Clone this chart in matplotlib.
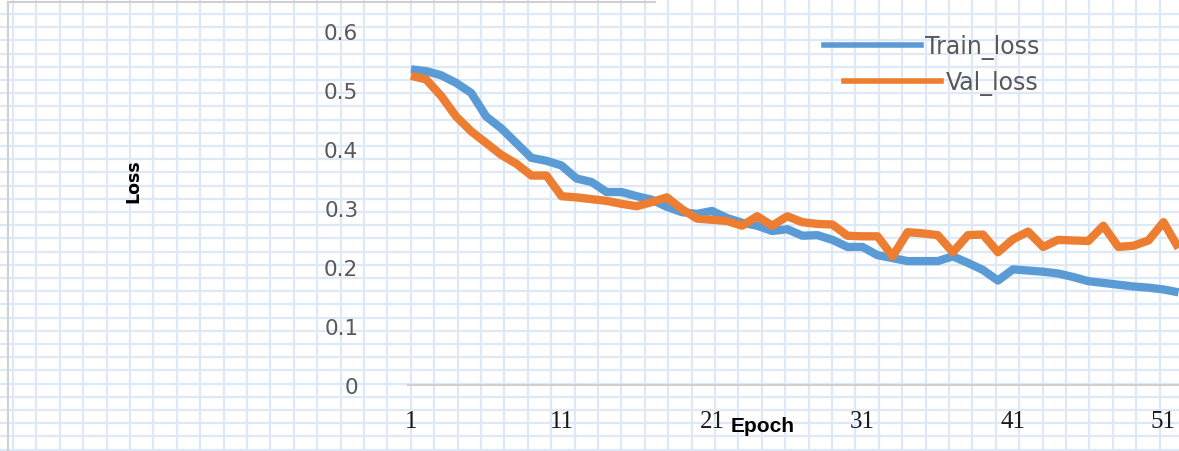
import matplotlib
matplotlib.use("Agg")
import matplotlib.pyplot as plt
from matplotlib.lines import Line2D

epochs = list(range(1, 53))
train_loss = [0.535, 0.532, 0.525, 0.512, 0.495, 0.455, 0.435, 0.410, 0.385, 0.380,
              0.372, 0.350, 0.344, 0.327, 0.327, 0.320, 0.314, 0.302, 0.293, 0.290,
              0.295, 0.283, 0.275, 0.270, 0.261, 0.264, 0.253, 0.254, 0.246, 0.234,
              0.234, 0.220, 0.215, 0.210, 0.210, 0.210, 0.218, 0.207, 0.195, 0.177,
              0.196, 0.194, 0.192, 0.189, 0.183, 0.176, 0.173, 0.170, 0.167, 0.165,
              0.162, 0.157]
val_loss = [0.524, 0.518, 0.490, 0.455, 0.430, 0.410, 0.390, 0.375, 0.355, 0.355,
            0.320, 0.318, 0.315, 0.312, 0.307, 0.303, 0.310, 0.318, 0.298, 0.282,
            0.280, 0.278, 0.270, 0.286, 0.270, 0.286, 0.276, 0.273, 0.272, 0.253,
            0.252, 0.252, 0.218, 0.259, 0.257, 0.254, 0.225, 0.254, 0.255, 0.225,
            0.247, 0.260, 0.234, 0.246, 0.245, 0.244, 0.270, 0.234, 0.236, 0.245,
            0.276, 0.232]
y_ticks = [0, 0.1, 0.2, 0.3, 0.4, 0.5, 0.6]
y_tick_labels = ["0", "0.1", "0.2", "0.3", "0.4", "0.5", "0.6"]
x_ticks = [1, 11, 21, 31, 41, 51]
x_tick_labels = ["1", "11", "21", "31", "41", "51"]
series_names = ["Train_loss", "Val_loss"]

W, H = 1179, 452
fig = plt.figure(figsize=(W / 100, H / 100), dpi=100)
fig.patch.set_facecolor("white")

# background "grid paper"
bg = fig.add_axes([0, 0, 1, 1])
bg.set_xlim(0, W)
bg.set_ylim(H, 0)
bg.axis("off")
grid_c = "#dde9f6"
x = 13.0
while x < W:
    bg.axvline(x, color=grid_c, lw=1.6, zorder=0)
    x += 23.4
y = 15.0
while y < H:
    bg.axhline(y, color=grid_c, lw=1.6, zorder=0)
    y += 13.2
bg.plot([8, 8], [3, H], color="#d0d0d0", lw=1.5)
bg.plot([8, 655], [3, 3], color="#d0d0d0", lw=1.5)

# main axes
L, R, T, B = 400, 1179, 20, 386
px_per_epoch = 15.05
px_per_unit = 590.0
ax = fig.add_axes([L / W, 1 - B / H, (R - L) / W, (B - T) / H])
ax.patch.set_alpha(0)
ax.set_xlim(1 + (L - 411) / px_per_epoch, 1 + (R - 411) / px_per_epoch)
ax.set_ylim(0, (B - T) / px_per_unit)

ax.plot(epochs, train_loss, color="#5b9bd5", lw=6, solid_capstyle="butt",
        solid_joinstyle="round", zorder=3)
ax.plot(epochs, val_loss, color="#ed7d31", lw=6, solid_capstyle="butt",
        solid_joinstyle="round", zorder=4)

for s in ["top", "right", "left"]:
    ax.spines[s].set_visible(False)
ax.spines["bottom"].set_color("#cfcfcf")
ax.spines["bottom"].set_linewidth(1.4)
ax.spines["bottom"].set_bounds(1 + (408 - 411) / px_per_epoch, ax.get_xlim()[1])

ax.set_yticks(y_ticks)
ax.set_yticklabels(y_tick_labels, fontsize=15.5, color="#595959", family="DejaVu Sans")
ax.set_xticks(x_ticks)
ax.set_xticklabels(x_tick_labels, fontsize=18, color="#1a1a1a", family="Liberation Serif")
ax.tick_params(axis="y", length=0, pad=30)
ax.tick_params(axis="x", length=0, pad=18)

fig.text(763 / W, 1 - 427 / H, "Epoch", fontsize=15, fontweight="bold",
         family=["Liberation Sans Narrow", "Liberation Sans"], ha="center", va="center")
fig.text(133 / W, 1 - 181 / H, "Loss", fontsize=12.5, fontweight="bold", rotation=90,
         ha="center", va="center")

h1 = Line2D([], [], color="#5b9bd5", lw=4)
h2 = Line2D([], [], color="#ed7d31", lw=4)
leg1 = ax.legend([h1], [series_names[0]], loc="center left",
                 bbox_to_anchor=(812 / W, 1 - 48 / H), bbox_transform=fig.transFigure,
                 frameon=False, borderpad=0, handlelength=4.1, handletextpad=0.2,
                 prop={"size": 17, "family": "DejaVu Sans"})
for t in leg1.get_texts():
    t.set_color("#595959")
ax.add_artist(leg1)
leg2 = ax.legend([h2], [series_names[1]], loc="center left",
                 bbox_to_anchor=(832 / W, 1 - 84 / H), bbox_transform=fig.transFigure,
                 frameon=False, borderpad=0, handlelength=4.1, handletextpad=0.2,
                 prop={"size": 17, "family": "DejaVu Sans"})
for t in leg2.get_texts():
    t.set_color("#595959")

fig.savefig("out.png", dpi=100, facecolor="white")
